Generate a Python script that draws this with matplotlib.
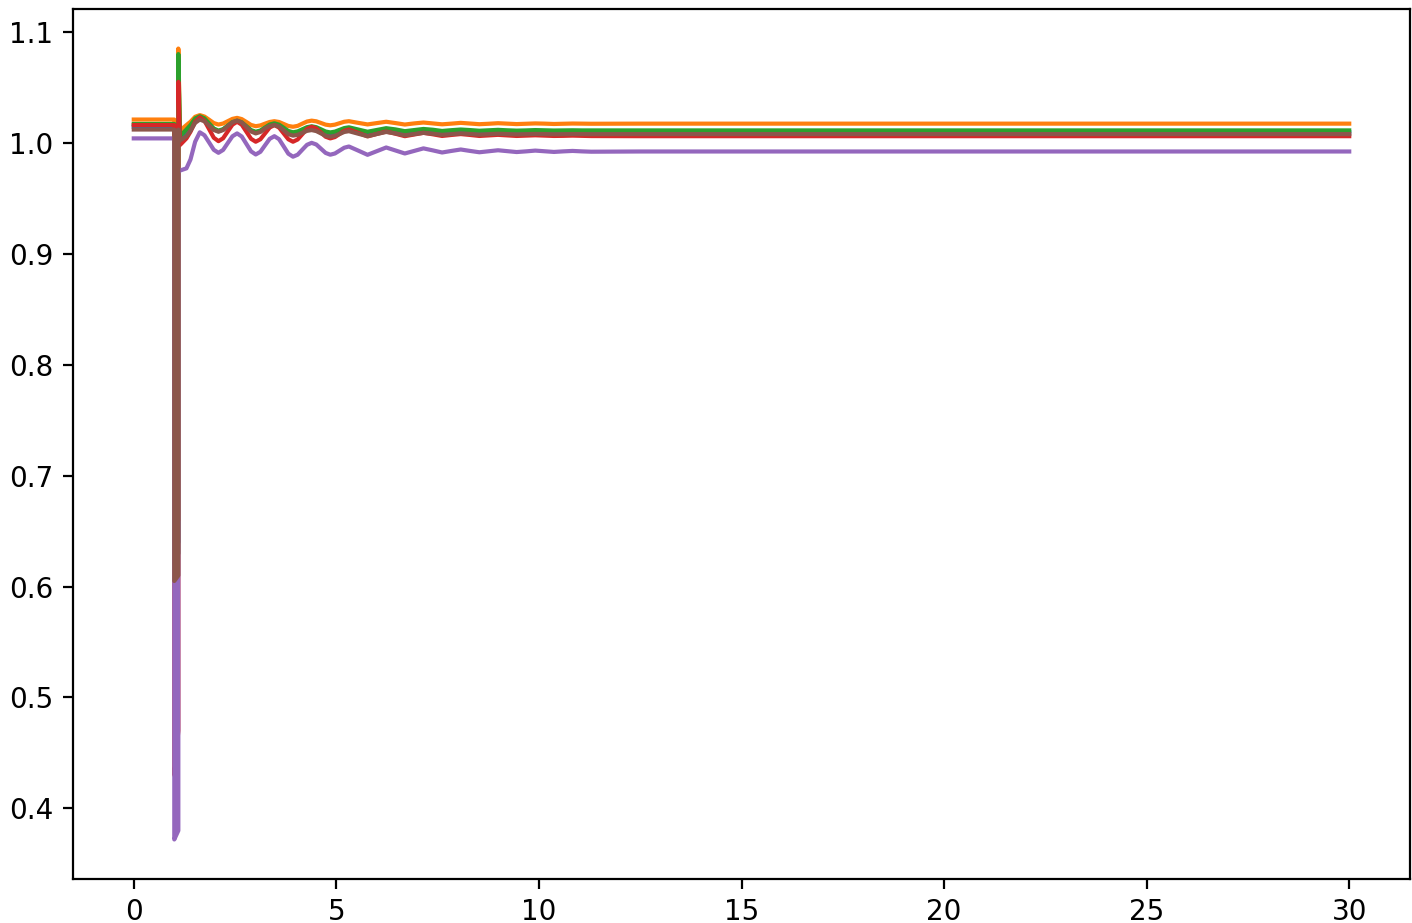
import matplotlib
matplotlib.use("Agg")
import matplotlib.pyplot as plt

# time axis (s)
t = [0.0, 1.0, 1.0, 1.1, 1.1, 1.14, 1.3,
     1.40, 1.515, 1.63, 1.745, 1.86, 1.975, 2.09, 2.205, 2.32, 2.435, 2.55,
     2.665, 2.78, 2.895, 3.01, 3.125, 3.24, 3.355, 3.47, 3.585, 3.70, 3.815,
     3.93, 4.045, 4.16, 4.275, 4.39, 4.505, 4.62, 4.735, 4.85, 4.965, 5.08,
     5.195, 5.31,
     5.54, 5.77, 6.00, 6.23, 6.46, 6.69, 6.92, 7.15, 7.38, 7.61, 7.84, 8.07,
     8.30, 8.53, 8.76, 8.99, 9.22, 9.45, 9.68, 9.91, 10.14, 10.37, 10.6,
     10.83, 11.06, 11.29,
     12.5, 15.0, 20.0, 25.0, 30.0]

v_blue = [1.0145, 1.0145, 0.63, 0.64, 1.07, 1.004, 1.009,
          1.0135, 1.020, 1.0225, 1.0207, 1.0165, 1.0122, 1.0105, 1.0119, 1.0153, 1.0186, 1.0199,
          1.0184, 1.0147, 1.0109, 1.0093, 1.0105, 1.0134, 1.0164, 1.0172, 1.0162, 1.0129, 1.0095,
          1.0081, 1.0088, 1.0106, 1.0123, 1.0131, 1.0124, 1.0104, 1.0083, 1.0075, 1.0082, 1.0099,
          1.0116, 1.0122,
          1.0101, 1.008, 1.0098, 1.0115, 1.0103, 1.0087, 1.0097, 1.0107, 1.010, 1.009, 1.0096, 1.0102,
          1.0097, 1.0092, 1.0095, 1.0099, 1.0096, 1.0093, 1.0095, 1.0097, 1.0096, 1.0094, 1.0095,
          1.0096, 1.0095, 1.0095,
          1.0095, 1.0095, 1.0095, 1.0095, 1.0095]

v_orange = [1.021, 1.021, 0.65, 0.66, 1.085, 1.011, 1.016,
            1.019, 1.0235, 1.025, 1.0237, 1.0208, 1.0178, 1.0165, 1.0174, 1.0195, 1.0216, 1.0225,
            1.0214, 1.0188, 1.0161, 1.015, 1.0157, 1.0173, 1.0188, 1.0195, 1.0188, 1.017, 1.0152,
            1.0145, 1.0153, 1.0173, 1.0192, 1.020, 1.0194, 1.0179, 1.0164, 1.0158, 1.0164, 1.0177,
            1.019, 1.0195,
            1.018, 1.0166, 1.0178, 1.019, 1.0178, 1.0165, 1.0175, 1.0183, 1.0175, 1.0167, 1.0173, 1.018,
            1.0174, 1.0168, 1.0172, 1.0177, 1.0173, 1.0169, 1.0172, 1.0175, 1.0173, 1.017, 1.0172,
            1.0174, 1.0173, 1.0172,
            1.0173, 1.0173, 1.0173, 1.0173, 1.0173]

v_green = [1.017, 1.017, 0.62, 0.63, 1.08, 1.006, 1.012,
           1.016, 1.022, 1.024, 1.0221, 1.0175, 1.0129, 1.011, 1.0123, 1.0155, 1.0187, 1.020,
           1.0185, 1.015, 1.0115, 1.010, 1.0111, 1.0138, 1.0165, 1.0176, 1.0164, 1.0136, 1.0107,
           1.0095, 1.0103, 1.0122, 1.0141, 1.0149, 1.0141, 1.0122, 1.0102, 1.0094, 1.0101, 1.0117,
           1.0133, 1.014,
           1.012, 1.010, 1.0116, 1.0132, 1.0121, 1.0105, 1.0115, 1.0125, 1.0118, 1.0107, 1.0114, 1.012,
           1.0115, 1.0109, 1.0113, 1.0117, 1.0113, 1.011, 1.0112, 1.0115, 1.0113, 1.0111, 1.0112,
           1.0113, 1.0112, 1.0112,
           1.0112, 1.0112, 1.0112, 1.0112, 1.0112]

v_red = [1.016, 1.016, 0.43, 0.47, 1.055, 0.998, 1.004,
         1.010, 1.019, 1.023, 1.0199, 1.0123, 1.0046, 1.0015, 1.0041, 1.0103, 1.0164, 1.019,
         1.0164, 1.010, 1.0036, 1.001, 1.0032, 1.0085, 1.0138, 1.016, 1.0138, 1.0085, 1.0032,
         1.001, 1.003, 1.0078, 1.0125, 1.0145, 1.013, 1.0093, 1.0055, 1.004, 1.0052, 1.008,
         1.0108, 1.012,
         1.009, 1.0058, 1.008, 1.0102, 1.0082, 1.006, 1.0075, 1.009, 1.0077, 1.0062, 1.0071, 1.0079,
         1.0071, 1.0062, 1.0067, 1.0072, 1.0067, 1.0062, 1.0065, 1.0068, 1.0065, 1.0062, 1.0063,
         1.0065, 1.0063, 1.0061,
         1.006, 1.006, 1.006, 1.006, 1.006]

v_purple = [1.004, 1.004, 0.372, 0.38, 0.977, 0.975, 0.977,
            0.985, 1.001, 1.0095, 1.0068, 1.0003, 0.9937, 0.991, 0.9936, 0.9998, 1.0059, 1.0085,
            1.0057, 0.999, 0.9923, 0.9895, 0.9919, 0.9978, 1.0036, 1.006, 1.0033, 0.9968, 0.9902,
            0.9875, 0.9893, 0.9938, 0.9982, 1.000, 0.9985, 0.9947, 0.9909, 0.9893, 0.9904, 0.993,
            0.9956, 0.9967,
            0.993, 0.9892, 0.9925, 0.9958, 0.9931, 0.9904, 0.9927, 0.995, 0.9932, 0.9913, 0.9927, 0.994,
            0.9927, 0.9915, 0.9924, 0.9933, 0.9925, 0.9917, 0.9923, 0.993, 0.9924, 0.9918, 0.9923,
            0.9927, 0.9923, 0.992,
            0.9922, 0.9922, 0.9922, 0.9922, 0.9922]

v_brown = [1.012, 1.012, 0.605, 0.61, 1.012, 1.002, 1.006,
           1.011, 1.018, 1.021, 1.0194, 1.0155, 1.0116, 1.010, 1.0115, 1.015, 1.0185, 1.020,
           1.0183, 1.0143, 1.0102, 1.0085, 1.0098, 1.013, 1.0152, 1.016, 1.0148, 1.0113, 1.0078,
           1.0065, 1.0072, 1.009, 1.0108, 1.0115, 1.0106, 1.0085, 1.0064, 1.0055, 1.0063, 1.008,
           1.0098, 1.0105,
           1.0082, 1.006, 1.008, 1.0098, 1.0085, 1.0068, 1.0079, 1.009, 1.0082, 1.0072, 1.0078, 1.0085,
           1.008, 1.0074, 1.0078, 1.0082, 1.0079, 1.0076, 1.0078, 1.008, 1.0079, 1.0077, 1.0078,
           1.0079, 1.0079, 1.0078,
           1.0079, 1.0079, 1.0079, 1.0079, 1.0079]

series = [v_blue, v_orange, v_green, v_red, v_purple, v_brown]

fig = plt.figure(figsize=(7.06, 4.615), dpi=200)
ax = fig.add_axes([73/1412, 44/923, 1337/1412, 870/923])

for v in series:
    ax.plot(t, v, lw=1.5)

ax.set_title("Dynamic Simulations")

fig.savefig("out.png", dpi=200)
